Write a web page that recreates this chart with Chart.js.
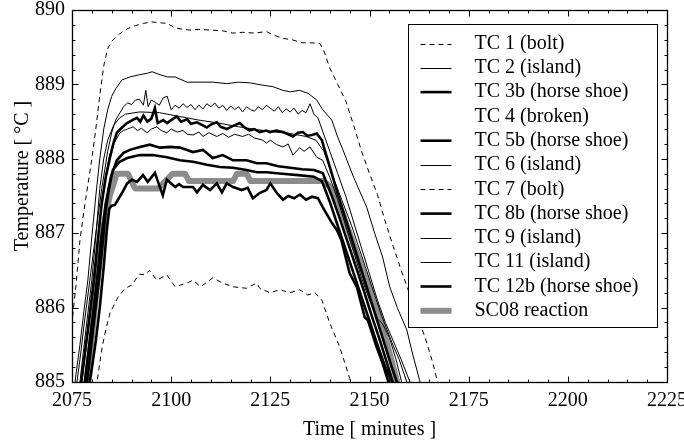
<!DOCTYPE html>
<html><head><meta charset="utf-8">
<script src="https://cdn.jsdelivr.net/npm/chart.js@4/dist/chart.umd.min.js"></script>
<style>html,body{margin:0;padding:0;background:#fff;}canvas{display:block;}</style>
</head><body>
<canvas id="c" width="684" height="443"></canvas>
<script>
// ---------------- data ----------------
const seriesLabels = ['TC 1 (bolt)','TC 2 (island)','TC 3b (horse shoe)','TC 4 (broken)','TC 5b (horse shoe)','TC 6 (island)','TC 7 (bolt)','TC 8b (horse shoe)','TC 9 (island)','TC 11 (island)','TC 12b (horse shoe)','SC08 reaction'];
const xAxisTitle = 'Time [ minutes ]';
const yAxisTitle = 'Temperature [ °C ]';

const tc1Time = [2074,2075,2076,2077,2078,2079,2080,2081,2082,2083,2084,2085,2087,2089,2091,2093,2095,2097,2099,2101,2103,2105,2107,2110,2113,2115.5,2118,2121,2124,2126,2128,2130.5,2133,2135,2137.5,2138.5,2140,2142,2144,2146,2148,2150,2152,2154,2156,2158,2160,2162,2164,2166,2167,2168];
const tc1Temp = [885.4,885.8,886.3,886.9,887.3,887.65,888.0,888.4,888.85,889.25,889.48,889.58,889.68,889.75,889.79,889.82,889.84,889.83,889.82,889.76,889.74,889.73,889.74,889.73,889.72,889.69,889.7,889.69,889.71,889.66,889.62,889.6,889.56,889.56,889.55,889.45,889.22,889.0,888.78,888.45,888.1,887.8,887.52,887.15,886.82,886.5,886.2,885.9,885.6,885.25,885.03,884.85];

const tc2Time = [2075,2076,2077,2078,2079,2080,2081,2082,2083,2084,2085,2086,2087.6,2089.6,2092,2094,2095.2,2097.2,2099,2101,2104,2107,2110.5,2114,2117,2120,2123,2125.6,2128.2,2130,2132.4,2134.5,2136.7,2138.2,2140.5,2142,2143.3,2146,2149.3,2151.3,2153.3,2155.1,2157,2159.4,2161,2162.6,2163.2];
const tc2Temp = [884.65,885.1,885.5,885.95,886.37,886.95,887.5,888.0,888.4,888.66,888.84,888.94,889.06,889.1,889.13,889.15,889.17,889.13,889.1,889.1,889.03,889.03,889.03,889.01,889.03,889.02,888.99,888.97,888.92,888.9,888.92,888.88,888.79,888.66,888.52,888.29,888.12,887.75,887.35,887.0,886.68,886.28,886.0,885.7,885.35,885.03,884.9];

const tc3bTime = [2076.8,2077.3,2079,2080.5,2081.5,2082.5,2083.5,2084.5,2085.4,2086.3,2087.6,2088.9,2090.2,2091.4,2092.2,2093,2094,2095,2095.9,2096.6,2098,2099,2100,2101.4,2102.5,2104,2105,2106.5,2108,2109,2110,2111.5,2112.5,2114,2115.5,2117.3,2118.5,2119.8,2121,2122.3,2124,2124.9,2126.5,2128.2,2129.5,2130.7,2132,2133.2,2134.3,2135.5,2136.7,2138,2138.7,2139.5,2141.5,2143.5,2145.5,2147.5,2149.5,2151.5,2153.5,2155.5,2156.9,2157.4];
const tc3bTemp = [884.8,885.0,885.7,886.37,886.9,887.4,887.75,888.0,888.2,888.35,888.42,888.48,888.52,888.55,888.5,888.58,888.5,888.54,888.68,888.48,888.52,888.48,888.52,888.57,888.5,888.53,888.47,888.49,888.45,888.42,888.46,888.49,888.43,888.4,888.44,888.48,888.42,888.38,888.4,888.36,888.38,888.36,888.38,888.36,888.33,888.3,888.35,888.36,888.31,888.32,888.34,888.25,888.12,887.98,887.62,887.27,886.93,886.58,886.24,885.9,885.56,885.22,885.0,884.9];

const tc4Time = [];   // broken thermocouple: no data
const tc4Temp = [];

const tc5bTime = [2077.7,2078.2,2079.8,2081.3,2082.3,2083.5,2084.8,2086.3,2088,2089.6,2092.1,2094.6,2097.2,2099.7,2102.2,2105.5,2108,2110.5,2113,2115.6,2119,2121.6,2124,2127,2130,2133,2136,2138.2,2140.5,2142.5,2144.5,2146.5,2148.5,2150.5,2152.5,2154.5,2155.9,2156.4];
const tc5bTemp = [884.8,885.0,885.7,886.37,886.9,887.4,887.75,887.98,888.08,888.12,888.16,888.19,888.15,888.16,888.15,888.09,888.12,888.01,888.05,887.98,887.98,887.94,887.94,887.9,887.88,887.86,887.85,887.81,887.5,887.2,886.88,886.56,886.24,885.9,885.58,885.24,885.0,884.9];

const tc6Time = [2076,2077,2078,2079.5,2081,2082.5,2084,2085,2086,2087.1,2088,2089,2090,2091,2092,2093,2093.6,2094.2,2095,2096,2097,2098,2099,2100,2101,2102,2103,2104,2105,2106,2107,2108,2109,2110,2111,2112,2113,2114,2115,2116,2117,2118,2119,2120,2121,2122,2123,2124,2125,2126,2127,2128,2129,2130,2131,2132,2133,2134,2135,2136,2137,2138,2140,2142,2144,2146,2148,2150,2152,2154,2156,2158,2160.2,2161];
const tc6Temp = [884.9,885.3,885.75,886.37,887.0,887.6,888.1,888.35,888.52,888.62,888.7,888.75,888.73,888.79,888.8,888.72,888.92,888.7,888.79,888.76,888.72,888.82,888.84,888.66,888.72,888.68,888.74,888.69,888.73,888.66,888.72,888.67,888.74,888.7,888.75,888.68,888.72,888.65,888.71,888.66,888.7,888.63,888.7,888.66,888.64,888.7,888.66,888.72,888.68,888.64,888.7,888.62,888.67,888.63,888.68,888.6,888.65,888.62,888.74,888.6,888.55,888.4,888.1,887.8,887.5,887.15,886.8,886.45,886.1,885.8,885.55,885.3,885.0,884.9];

const tc7Time = [2080.5,2081.3,2082.6,2083.6,2084.6,2086.6,2088.4,2090,2092,2093.4,2094.5,2096.4,2098.9,2101,2104,2105.5,2107.4,2109,2110.5,2113,2115.6,2119,2121.6,2122.3,2124.9,2127.4,2129.9,2132.4,2134.4,2136.2,2138,2140,2142.5,2145,2145.5];
const tc7Temp = [884.8,885.0,885.47,885.72,885.93,886.14,886.26,886.3,886.45,886.44,886.5,886.37,886.44,886.28,886.33,886.37,886.28,886.34,886.4,886.33,886.28,886.26,886.33,886.26,886.2,886.24,886.2,886.24,886.17,886.2,886.1,885.79,885.47,885.05,884.95];

const tc8bTime = [2078.3,2078.8,2080.3,2081.8,2082.7,2083.5,2084.4,2085.3,2087,2088.9,2092.1,2095.4,2098.9,2102.2,2105.5,2109,2112.3,2115.6,2119,2121.6,2124,2128,2132,2136,2138,2140,2142,2144,2146,2148,2150,2152,2154,2155.6,2156.1];
const tc8bTemp = [884.8,885.0,885.7,886.37,886.85,887.3,887.62,887.85,887.96,888.01,888.05,888.05,888.02,887.98,887.96,887.92,887.89,887.88,887.85,887.82,887.82,887.8,887.78,887.76,887.7,887.42,887.1,886.78,886.46,886.14,885.82,885.5,885.2,885.0,884.9];

const tc9Time = [2076.3,2077,2078.5,2080,2081,2082,2083,2084,2085.5,2087,2088.5,2092,2097,2102,2107,2112,2117,2122,2126,2130,2134,2136.5,2138.5,2140.5,2143,2145.5,2148,2150.5,2153,2155.5,2157.5,2159.4,2160];
const tc9Temp = [884.7,885.0,885.7,886.37,886.95,887.6,888.0,888.25,888.45,888.55,888.6,888.63,888.62,888.57,888.52,888.48,888.43,888.39,888.36,888.34,888.3,888.25,888.1,887.8,887.45,887.1,886.7,886.3,885.9,885.55,885.3,885.0,884.9];

const tc11Time = [2077,2077.5,2079,2080.7,2081.7,2082.7,2083.6,2084.5,2085.3,2086,2087.1,2088,2089,2090.4,2091.5,2092.5,2093.9,2095,2096.4,2097.5,2098.9,2100,2101.5,2103,2104,2105.5,2107,2108,2109.5,2111.5,2113,2114.5,2116,2118,2119.5,2121,2123.1,2124,2125,2126.6,2128.2,2129.5,2130.7,2132.4,2133.5,2135,2136.7,2138.2,2140,2142,2144,2146,2148,2150,2152,2153.3,2155,2156.7,2158.1,2158.6];
const tc11Temp = [884.8,885.0,885.65,886.37,886.95,887.5,887.8,888.05,888.17,888.25,888.35,888.38,888.4,888.43,888.38,888.41,888.35,888.4,888.43,888.38,888.35,888.4,888.36,888.38,888.33,888.32,888.36,888.3,888.35,888.3,888.34,888.29,888.33,888.3,888.33,888.28,888.25,888.21,888.25,888.19,888.16,888.2,888.05,888.15,888.1,888.16,888.02,887.98,887.75,887.45,887.1,886.75,886.4,886.1,885.85,885.78,885.6,885.3,885.0,884.9];

const tc12bTime = [2079,2079.5,2081,2082,2083,2083.8,2084.4,2085,2085.8,2087.6,2088.9,2090.1,2091.4,2092.9,2094.1,2095.9,2096.7,2097.9,2098.9,2101,2102,2103,2105.5,2106.5,2108,2109.8,2111.5,2112.8,2114,2115.6,2117.8,2119.3,2120.6,2122.3,2124,2125,2126.5,2128.2,2129.5,2131,2132.5,2134,2135.5,2137,2138.2,2140.5,2141.8,2142.9,2145,2146.8,2148.8,2149.6,2151.8,2153.3,2154.6,2155.1];
const tc12bTemp = [884.8,885.0,885.55,886.0,886.55,887.05,887.33,887.37,887.38,887.54,887.67,887.72,887.69,887.78,887.69,887.81,887.69,887.51,887.72,887.62,887.66,887.62,887.62,887.55,887.65,887.58,887.67,887.55,887.67,887.62,887.58,887.61,887.47,887.54,887.58,887.67,887.55,887.45,887.5,887.47,887.52,887.45,887.49,887.47,887.35,887.14,887.04,886.91,886.46,886.28,885.87,885.83,885.47,885.25,885.03,884.95];

const sc08Time = [2078.5,2080,2081.5,2083,2084.5,2086.3,2089.1,2090.9,2096.7,2098.5,2100.4,2103.5,2104.5,2115.6,2116.6,2119,2120,2138.5,2140.5,2141.5,2143,2145,2147,2149,2151,2153,2155,2157,2157.5];
const sc08Temp = [884.8,885.6,886.4,887.1,887.5,887.8,887.8,887.6,887.6,887.7,887.8,887.8,887.7,887.7,887.8,887.8,887.7,887.7,887.6,887.5,887.3,887.0,886.7,886.4,886.1,885.8,885.4,885.0,884.9];

const xMin = 2075, xMax = 2225, xStep = 25, xMinor = 5;
const yMin = 885, yMax = 890, yStep = 1, yMinor = 0.2;

// ---------------- styles ----------------
const seriesData = [
  [tc1Time, tc1Temp], [tc2Time, tc2Temp], [tc3bTime, tc3bTemp], [tc4Time, tc4Temp],
  [tc5bTime, tc5bTemp], [tc6Time, tc6Temp], [tc7Time, tc7Temp], [tc8bTime, tc8bTemp],
  [tc9Time, tc9Temp], [tc11Time, tc11Temp], [tc12bTime, tc12bTemp], [sc08Time, sc08Temp]
];
const dashed = {borderColor:'#000', borderWidth:1, borderDash:[5,4]};
const thin   = {borderColor:'#000', borderWidth:1};
const thick  = {borderColor:'#000', borderWidth:2.6};
const none   = {borderColor:'rgba(0,0,0,0)', borderWidth:0};
const grey   = {borderColor:'#8c8c8c', borderWidth:6, borderJoinStyle:'round', borderCapStyle:'butt'};
const seriesStyle = [dashed, thin, thick, none, thick, thin, dashed, thick, thin, thin, thick, grey];

const datasets = seriesLabels.map((label, i) => Object.assign({
  label,
  data: seriesData[i][0].map((t, k) => ({x: t, y: seriesData[i][1][k]})),
  pointRadius: 0, tension: 0, fill: false, clip: 0
}, seriesStyle[i]));

const FONT = "'Liberation Serif','Times New Roman',serif";
Chart.defaults.font.family = FONT;
Chart.defaults.font.size = 20;
Chart.defaults.color = '#000';

const frame = {
  id: 'frame',
  afterDatasetsDraw(chart) {
    const {ctx, chartArea: a, scales: {x, y}} = chart;
    ctx.save();
    ctx.strokeStyle = '#000';
    ctx.lineWidth = 1;
    const L = Math.round(a.left) + 0.5, R = Math.round(a.right) + 0.5, T = Math.round(a.top) + 0.5, B = Math.round(a.bottom) + 0.5;
    ctx.beginPath();
    const nx = Math.round((xMax - xMin) / xMinor);
    for (let i = 0; i <= nx; i++) {
      const v = xMin + i * xMinor;
      const px = Math.round(x.getPixelForValue(v)) + 0.5;
      const len = (i * xMinor) % xStep === 0 ? 6 : 3;
      ctx.moveTo(px, B); ctx.lineTo(px, B - len);
      ctx.moveTo(px, T); ctx.lineTo(px, T + len);
    }
    const ny = Math.round((yMax - yMin) / yMinor);
    const per = Math.round(yStep / yMinor);
    for (let i = 0; i <= ny; i++) {
      const v = yMin + i * yMinor;
      const py = Math.round(y.getPixelForValue(v)) + 0.5;
      const len = i % per === 0 ? 6 : 3;
      ctx.moveTo(L, py); ctx.lineTo(L + len, py);
      ctx.moveTo(R, py); ctx.lineTo(R - len, py);
    }
    ctx.stroke();
    ctx.lineWidth = 1.3;
    ctx.strokeRect(L, T, R - L, B - T);
    // y axis title (placed slightly above the axis centre, as in the reference)
    ctx.fillStyle = '#000';
    ctx.font = '20px ' + FONT;
    ctx.textAlign = 'center';
    ctx.textBaseline = 'middle';
    ctx.translate(23, (a.top + a.bottom) / 2 - 20);
    ctx.rotate(-Math.PI / 2);
    ctx.fillText(yAxisTitle, 0, 0);
    ctx.restore();
  }
};

const boxLegend = {
  id: 'boxLegend',
  afterDraw(chart) {
    const {ctx, chartArea: a} = chart;
    const L = Math.round(a.right - 259) + 0.5, R = Math.round(a.right - 10) + 0.5;
    const T = Math.round(a.top + 14) + 0.5, B = Math.round(a.top + 317) + 0.5;
    ctx.save();
    ctx.fillStyle = '#fff';
    ctx.fillRect(L, T, R - L, B - T);
    ctx.strokeStyle = '#000'; ctx.lineWidth = 1;
    ctx.strokeRect(L, T, R - L, B - T);
    const ds = chart.data.datasets;
    ds.forEach((d, i) => {
      const yy = T + 19 + i * 24.3;
      if (d.borderWidth > 0) {
        ctx.beginPath();
        ctx.setLineDash(d.borderDash || []);
        ctx.lineWidth = d.borderWidth;
        ctx.strokeStyle = d.borderColor;
        ctx.lineCap = 'butt';
        const ly = d.borderWidth < 2 ? Math.round(yy) + 0.5 : yy;
        ctx.moveTo(L + 12, ly); ctx.lineTo(L + 43, ly);
        ctx.stroke();
        ctx.setLineDash([]);
      }
      ctx.fillStyle = '#000';
      ctx.font = '20px ' + FONT;
      ctx.textBaseline = 'middle';
      ctx.textAlign = 'left';
      ctx.fillText(d.label, L + 66, yy);
    });
    ctx.restore();
  }
};

new Chart(document.getElementById('c'), {
  type: 'line',
  data: {datasets},
  options: {
    responsive: false, animation: false, devicePixelRatio: 1,
    layout: {padding: {top: 10, right: 17, left: 0, bottom: 0}},
    plugins: {legend: {display: false}, tooltip: {enabled: false}},
    scales: {
      x: {
        type: 'linear', min: xMin, max: xMax,
        ticks: {stepSize: xStep, padding: 7, maxRotation: 0, autoSkip: false, callback: v => String(v)},
        grid: {display: false, drawTicks: false}, border: {display: false},
        title: {display: true, text: xAxisTitle, padding: {top: 0, bottom: 1}},
        afterFit(s) { s.height = 61; s.paddingLeft = 0; s.paddingRight = 0; }
      },
      y: {
        type: 'linear', min: yMin, max: yMax,
        ticks: {stepSize: yStep, padding: 7, callback: v => String(v)},
        grid: {display: false, drawTicks: false}, border: {display: false},
        title: {display: false},
        afterFit(s) { s.width = 72; s.paddingTop = 0; s.paddingBottom = 0; }
      }
    }
  },
  plugins: [frame, boxLegend]
});
</script>
</body></html>
